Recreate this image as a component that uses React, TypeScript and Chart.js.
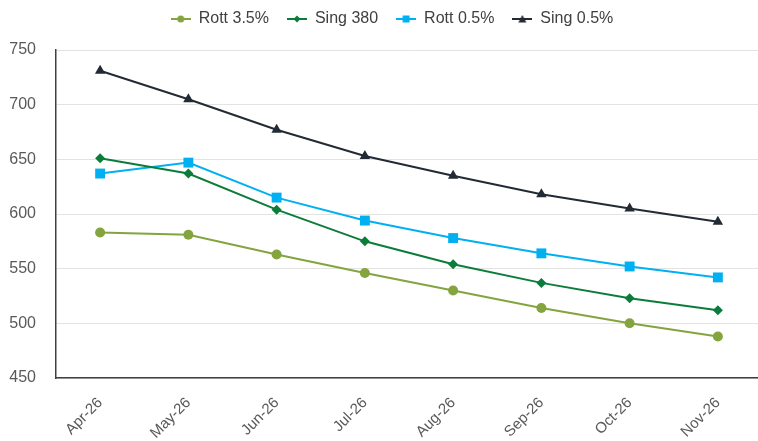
import React, { useEffect, useRef } from "react";
import { Chart, registerables } from "chart.js";

Chart.register(...registerables);

const categories = ["Apr-26", "May-26", "Jun-26", "Jul-26", "Aug-26", "Sep-26", "Oct-26", "Nov-26"];
const rott35 = [583, 581, 563, 546, 530, 514, 500, 488];
const sing380 = [651, 637, 604, 575, 554, 537, 523, 512];
const rott05 = [637, 647, 615, 594, 578, 564, 552, 542];
const sing05 = [731, 705, 677, 653, 635, 618, 605, 593];
const yTicks = [450, 500, 550, 600, 650, 700, 750];

const seriesNames = ["Rott 3.5%", "Sing 380", "Rott 0.5%", "Sing 0.5%"];
const seriesColors = ["#84A43F", "#0B7C3A", "#00B0F0", "#222A35"];
const seriesStyles = ["circle", "rectRot", "rect", "triangle"];
const FONT = "'Liberation Sans', Arial, sans-serif";

function makeLegendIcon(color: string, style: string): HTMLCanvasElement {
  const c = document.createElement("canvas");
  c.width = 20;
  c.height = 12;
  const ctx = c.getContext("2d")!;
  ctx.strokeStyle = color;
  ctx.fillStyle = color;
  ctx.lineWidth = 2;
  ctx.beginPath();
  ctx.moveTo(0, 6);
  ctx.lineTo(20, 6);
  ctx.stroke();
  ctx.beginPath();
  if (style === "circle") {
    ctx.arc(10, 6, 3.5, 0, Math.PI * 2);
  } else if (style === "rectRot") {
    ctx.moveTo(10, 2.5);
    ctx.lineTo(13.5, 6);
    ctx.lineTo(10, 9.5);
    ctx.lineTo(6.5, 6);
    ctx.closePath();
  } else if (style === "rect") {
    ctx.rect(6.5, 2.5, 7, 7);
  } else {
    ctx.moveTo(10, 2);
    ctx.lineTo(14, 9.5);
    ctx.lineTo(6, 9.5);
    ctx.closePath();
  }
  ctx.fill();
  return c;
}

const legendMargin = {
  id: "legendMargin",
  beforeInit(chart: any) {
    const orig = chart.legend.fit;
    chart.legend.fit = function () {
      orig.call(this);
      this.height = 57;
    };
  },
  afterLayout(chart: any) {
    chart.legend.left += 7;
    chart.legend.right += 7;
  },
};

export default function App() {
  const ref = useRef<HTMLCanvasElement | null>(null);
  useEffect(() => {
    document.body.style.margin = "0";
    document.body.style.overflow = "hidden";
    const values = [rott35, sing380, rott05, sing05];
    const radii = [5, 5, 7, 6];
    const chart = new Chart(ref.current!, {
      type: "line",
      data: {
        labels: categories,
        datasets: values.map((v, i) => ({
          label: seriesNames[i],
          data: v,
          borderColor: seriesColors[i],
          backgroundColor: seriesColors[i],
          pointBackgroundColor: seriesColors[i],
          pointBorderColor: seriesColors[i],
          pointStyle: seriesStyles[i] as any,
          pointRadius: radii[i],
          pointBorderWidth: 0,
          borderWidth: 2,
          tension: 0,
        })),
      },
      plugins: [legendMargin],
      options: {
        animation: false,
        responsive: false,
        layout: { autoPadding: false, padding: { left: 8, right: 0, top: -7, bottom: 3 } },
        plugins: {
          tooltip: { enabled: false },
          legend: {
            position: "top",
            labels: {
              usePointStyle: true,
              pointStyleWidth: 20,
              boxHeight: 12,
              padding: 18,
              color: "#404040",
              font: { family: FONT, size: 16 },
              generateLabels: (ch: any) =>
                ch.data.datasets.map((d: any, i: number) => ({
                  text: d.label,
                  pointStyle: makeLegendIcon(seriesColors[i], seriesStyles[i]),
                  fillStyle: seriesColors[i],
                  strokeStyle: seriesColors[i],
                  lineWidth: 0,
                  hidden: false,
                  datasetIndex: i,
                  fontColor: "#404040",
                })),
            },
          },
        },
        scales: {
          x: {
            offset: true,
            grid: { display: false, drawTicks: false },
            border: { display: true, color: "#404040", width: 1.5 },
            afterFit: (axis: any) => {
              axis.height = 60;
            },
            ticks: {
              color: "#595959",
              font: { family: FONT, size: 15 },
              minRotation: 45,
              maxRotation: 45,
              padding: 16,
            },
          },
          y: {
            min: 450,
            max: 750,
            afterBuildTicks: (axis: any) => {
              axis.ticks = yTicks.map((v) => ({ value: v }));
            },
            afterFit: (axis: any) => {
              axis.width = 48;
            },
            grid: { color: "#e3e3e3", drawTicks: false },
            border: { display: true, color: "#404040", width: 1.5 },
            ticks: {
              color: "#595959",
              font: { family: FONT, size: 16 },
              padding: 20,
            },
          },
        },
      },
    });
    return () => chart.destroy();
  }, []);
  return (
    <div style={{ width: 758, height: 441, overflow: "hidden" }}>
      <canvas ref={ref} width={762} height={441} style={{ display: "block" }} />
    </div>
  );
}
